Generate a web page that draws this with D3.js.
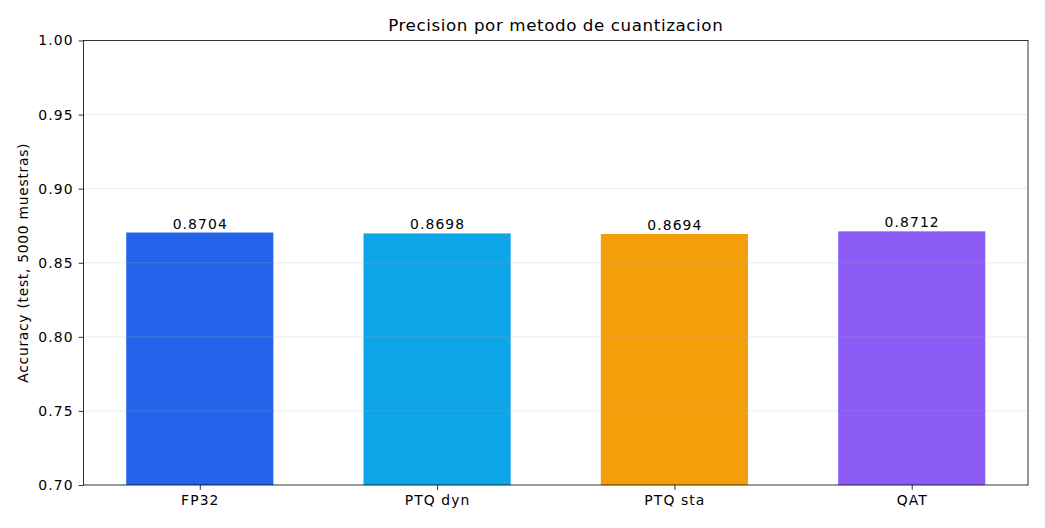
<!DOCTYPE html>
<html>
<head>
<meta charset="utf-8">
<script src="https://cdn.jsdelivr.net/npm/d3@7"></script>
<style>
    body { margin: 0; background: #fff; }
    svg { font-family: "DejaVu Sans", sans-serif; }
</style>
</head>
<body>
<svg id="chart" width="1045" height="528"></svg>
<script>
// Data
const methods = ["FP32", "PTQ dyn", "PTQ sta", "QAT"];
const accuracy = [0.8704, 0.8698, 0.8694, 0.8712];
const barColors = ["#2563eb", "#0ea5e9", "#f59e0b", "#8b5cf6"];
const yTicks = [0.70, 0.75, 0.80, 0.85, 0.90, 0.95, 1.00];

let margin = {top: 40.5, right: 17, bottom: 43, left: 83.5};
let width = 1045 - margin.left - margin.right;
let height = 528 - margin.top - margin.bottom;

let svg = d3.select("#chart")
    .append("g")
    .attr("transform", `translate(${margin.left}, ${margin.top})`);

// Scales
let xScale = d3.scaleLinear()
    .domain([-0.49, methods.length - 1 + 0.49])
    .range([0, width]);
let yScale = d3.scaleLinear()
    .domain([0.70, 1.00])
    .range([height, 0]);
let barWidth = xScale(0.62) - xScale(0);

// Bars
svg.append("g")
    .selectAll("rect")
    .data(methods)
    .enter().append("rect")
    .attr("x", (d, i) => xScale(i) - barWidth / 2)
    .attr("y", (d, i) => yScale(accuracy[i]))
    .attr("width", barWidth)
    .attr("height", (d, i) => height - yScale(accuracy[i]))
    .attr("fill", (d, i) => barColors[i]);

// Grid (drawn over bars, faint)
svg.append("g")
    .selectAll("line")
    .data(yTicks.slice(1, -1))
    .enter().append("line")
    .attr("x1", 0)
    .attr("x2", width)
    .attr("y1", d => yScale(d))
    .attr("y2", d => yScale(d))
    .attr("stroke", "#b0b0b0")
    .attr("stroke-opacity", 0.3)
    .attr("stroke-width", 0.8);

// Value labels
svg.append("g")
    .selectAll("text")
    .data(methods)
    .enter().append("text")
    .attr("x", (d, i) => xScale(i) + 0.5)
    .attr("y", (d, i) => yScale(accuracy[i]) - 4)
    .attr("text-anchor", "middle")
    .attr("font-size", "13.9px")
    .attr("letter-spacing", "1.1px")
    .attr("fill", "#000")
    .text((d, i) => accuracy[i].toFixed(4));

// Axes
let xAxis = d3.axisBottom(xScale)
    .tickValues(d3.range(methods.length))
    .tickFormat(i => methods[i])
    .tickSize(4.9)
    .tickPadding(4.9);
let yAxis = d3.axisLeft(yScale)
    .tickValues(yTicks)
    .tickFormat(d3.format(".2f"))
    .tickSize(4.9)
    .tickPadding(4.9);

let gx = svg.append("g")
    .attr("transform", `translate(0, ${height})`)
    .call(xAxis);
let gy = svg.append("g").call(yAxis);

[gx, gy].forEach(g => {
    g.select(".domain").remove();
    g.selectAll("text")
        .attr("font-size", "13.9px")
        .attr("font-family", "DejaVu Sans")
        .attr("letter-spacing", "1.1px")
        .attr("fill", "#000");
    g.selectAll("line").attr("stroke", "#000").attr("stroke-width", 0.8);
});

// Frame
svg.append("rect")
    .attr("width", width)
    .attr("height", height)
    .attr("fill", "none")
    .attr("stroke", "#000")
    .attr("stroke-width", 0.8);

// Title and label
svg.append("text")
    .attr("x", width / 2)
    .attr("y", -10)
    .attr("text-anchor", "middle")
    .attr("font-size", "16.7px")
    .attr("letter-spacing", "0.6px")
    .text("Precision por metodo de cuantizacion");

svg.append("text")
    .attr("transform", `translate(${-56}, ${height / 2}) rotate(-90)`)
    .attr("text-anchor", "middle")
    .attr("font-size", "13.9px")
    .attr("letter-spacing", "0.7px")
    .text("Accuracy (test, 5000 muestras)");
</script>
</body>
</html>
